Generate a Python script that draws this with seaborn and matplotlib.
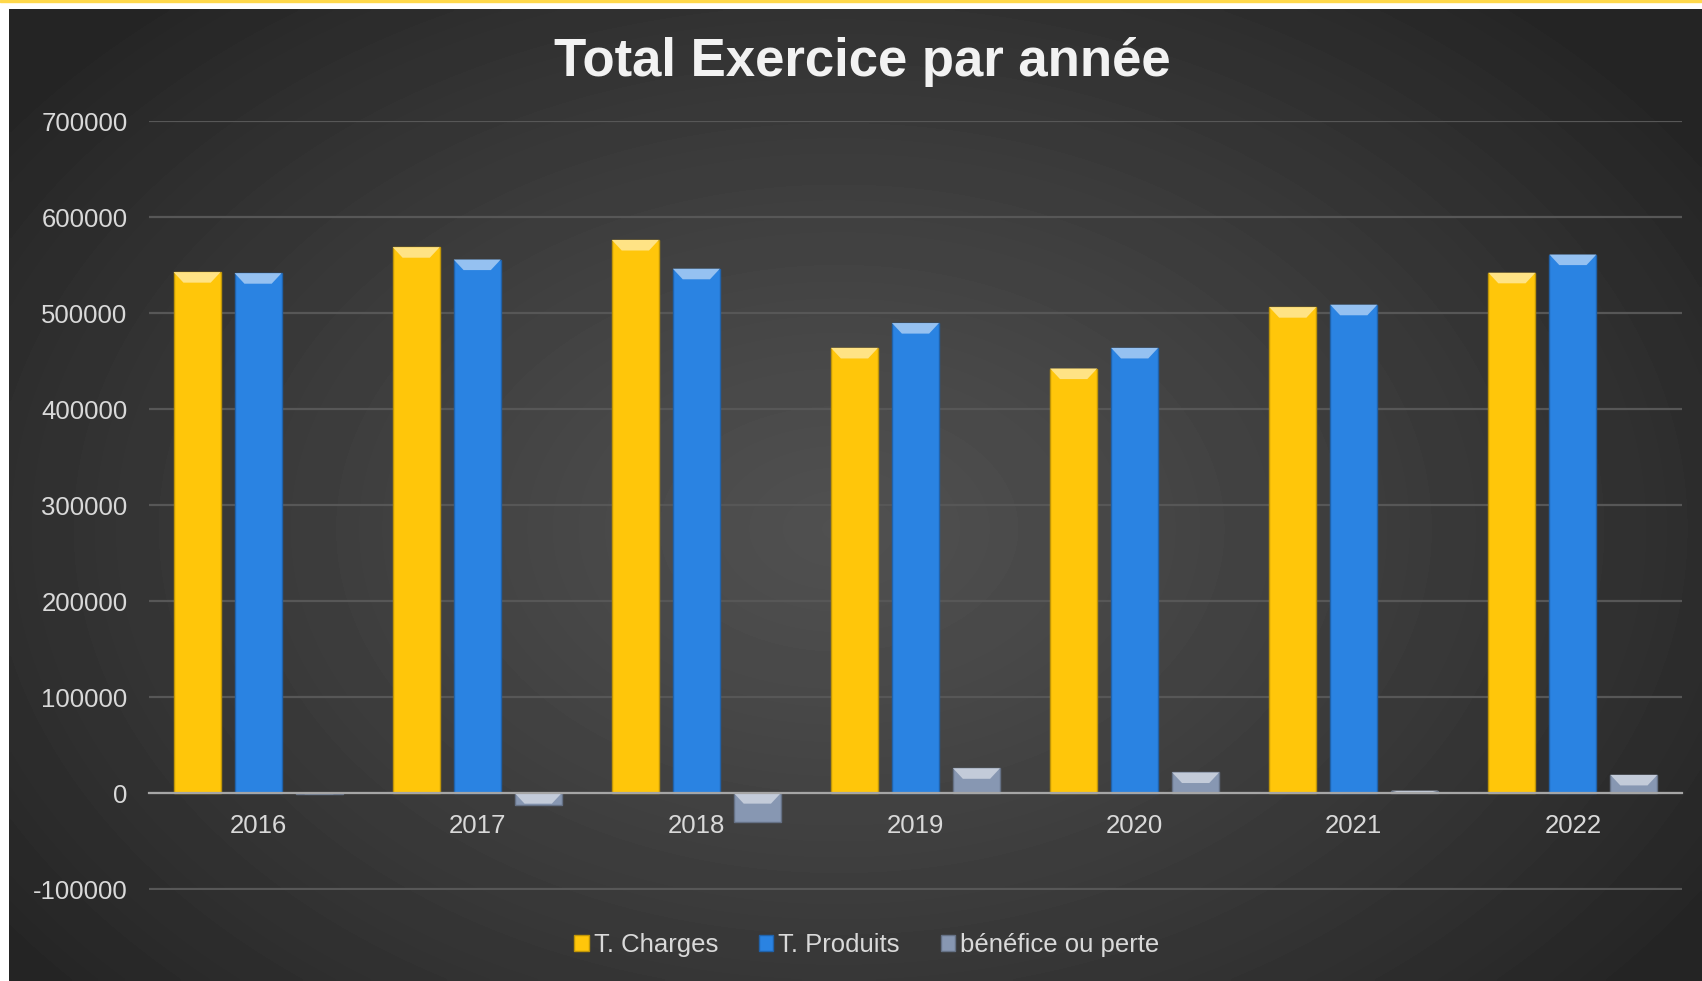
import numpy as np
import pandas as pd
import matplotlib
matplotlib.use("Agg")
import matplotlib.pyplot as plt
import matplotlib.colors as mcolors
from matplotlib.patches import Polygon, Patch, Rectangle
import seaborn as sns

years = ["2016", "2017", "2018", "2019", "2020", "2021", "2022"]
charges = [543000, 569000, 576500, 464000, 442500, 506500, 542300]
produits = [541900, 556100, 546500, 489900, 464000, 509000, 561300]
benefice = [-1100, -12900, -30000, 25900, 21500, 2500, 19000]
series = ["T. Charges", "T. Produits", "bénéfice ou perte"]
colors = ["#FFC60A", "#2A83E2", "#8797B2"]

df = pd.DataFrame({"Année": years, series[0]: charges, series[1]: produits, series[2]: benefice})
df = df.melt(id_vars="Année", var_name="Série", value_name="Montant")

sns.set_style("dark")
plt.rcParams["font.family"] = ["Liberation Sans", "DejaVu Sans"]
plt.rcParams["axes.unicode_minus"] = False

fig = plt.figure(figsize=(17.02, 9.81), dpi=100, facecolor="white")

# dark panel with radial gradient
bg = fig.add_axes([9 / 1702, 0, 1 - 9 / 1702, 972 / 981])
gx, gy = np.meshgrid(np.linspace(0, 1693, 400), np.linspace(0, 972, 240))
r = np.sqrt(((gx - 830) / 1050) ** 2 + ((gy - 520) / 720) ** 2)
r = np.clip(r, 0, 1)
shade = (80 - (80 - 36) * r ** 1.2) / 255
bg.imshow(shade, cmap="gray", vmin=0, vmax=1, aspect="auto", interpolation="bilinear")
bg.set_axis_off()
fig.patches.append(Rectangle((0, 1 - 2 / 981), 1, 2 / 981, transform=fig.transFigure,
                             color="#FFD84A", zorder=5))

ax = fig.add_axes([148.5 / 1702, (981 - 890) / 981, 1534 / 1702, (890 - 120.5) / 981])
ax.set_facecolor("none")

sns.barplot(data=df, x="Année", y="Montant", hue="Série", palette=colors, saturation=1,
            width=0.835, gap=0.23, errorbar=None, legend=False, ax=ax,
            zorder=3)

# bevel highlight on top of each bar
for p in ax.patches:
    fc = np.array(mcolors.to_rgb(p.get_facecolor()))
    p.set_edgecolor(tuple(fc * 0.75))
    p.set_linewidth(1)
    x, w, y, h = p.get_x(), p.get_width(), p.get_y(), p.get_height()
    top = max(y, y + h)
    dy = min(11000, abs(h))
    dx = 0.045
    light = tuple(fc * 0.5 + 0.5)
    ax.add_patch(Polygon([(x, top), (x + w, top), (x + w - dx, top - dy), (x + dx, top - dy)],
                         closed=True, facecolor=light, edgecolor="none", zorder=4))

ax.set_ylim(-101000, 701000)
ax.set_yticks(range(-100000, 700001, 100000))
ax.set_xlim(-0.5, 6.5)
ax.yaxis.grid(True, color="#575757", linewidth=1.6)
ax.set_axisbelow(True)
for s in ["top", "right", "left"]:
    ax.spines[s].set_visible(False)
ax.spines["bottom"].set_position(("data", 0))
ax.spines["bottom"].set_color("#A6A6A6")
ax.spines["bottom"].set_linewidth(1.6)
ax.spines["bottom"].set_zorder(5)
ax.tick_params(axis="y", length=0, pad=15, labelsize=18.5, labelcolor="#D9D9D9")
ax.tick_params(axis="x", length=0, pad=15, labelsize=18.5, labelcolor="#D9D9D9")
ax.set_xlabel("")
ax.set_ylabel("")

fig.text(862 / 1702, 1 - 62 / 981, "Total Exercice par année", ha="center", va="center",
         fontsize=38, fontweight="bold", color="#F2F2F2")

handles = [Patch(facecolor=c, edgecolor=tuple(np.array(mcolors.to_rgb(c)) * 0.75)) for c in colors]
fig.legend(handles, series, loc="center", bbox_to_anchor=(867 / 1702, 1 - 945 / 981), ncol=3,
           frameon=False, fontsize=18.5, labelcolor="#D9D9D9", handlelength=0.55,
           handleheight=0.55, handletextpad=0.2, columnspacing=1.6)

fig.savefig("out.png", dpi=100, facecolor="white")
